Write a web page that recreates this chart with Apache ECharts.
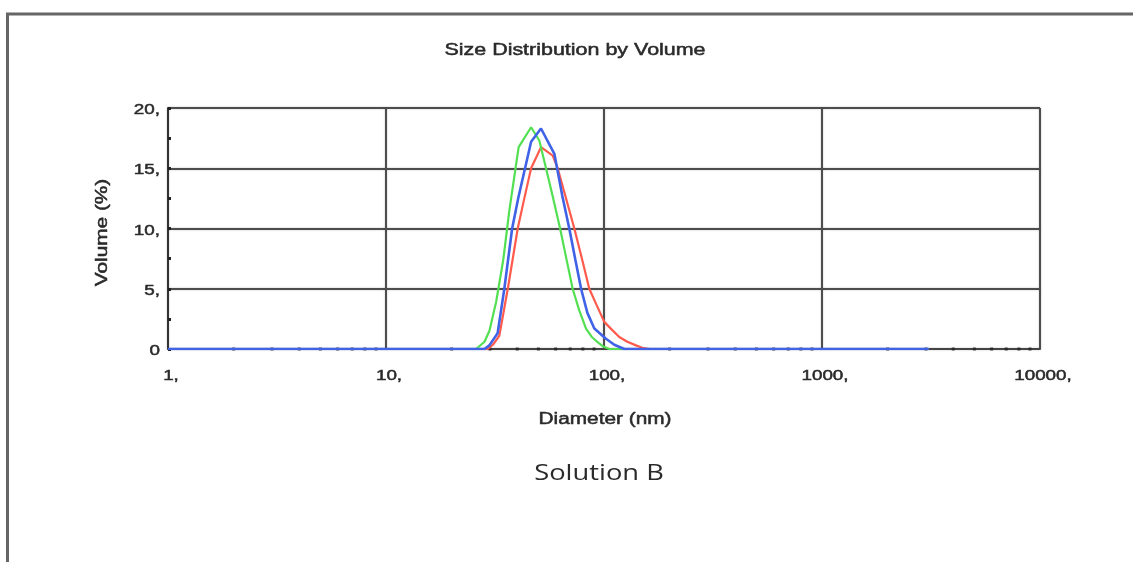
<!DOCTYPE html>
<html>
<head>
<meta charset="utf-8">
<title>Size Distribution by Volume</title>
<script src="https://cdn.jsdelivr.net/npm/echarts@6/dist/echarts.min.js"></script>
<style>
  html, body { margin: 0; padding: 0; background: #ffffff; }
  #chart { width: 1133px; height: 562px; }
</style>
</head>
<body>
<div id="chart"></div>
<script>
// Diameter ticks (nm) and volume ticks (%)
const xTicks = [1, 10, 100, 1000, 10000];
const yTicks = [0, 5, 10, 15, 20];
const xTickLabels = ['1,', '10,', '100,', '1000,', '10000,'];
const yTickLabels = ['0', '5,', '10,', '15,', '20,'];

// Measurement 1 (red)
const redDiameter = [1, 29.3, 31.1, 33.1, 36.2, 40.2, 43.1, 46.3, 51.4, 58.2, 61.3, 66.5, 73.1, 78.7, 85.6, 92.2, 100.3, 108.0, 117.5, 127.9, 140.2, 149.8, 161.3, 3091];
const redVolume   = [0, 0,    0.4,  1.1,  5.0,  10.0, 12.5, 15.0, 16.75, 16.05, 15.0, 12.7, 10.0, 7.7,  5.0,  3.7,  2.25,  1.65,  1.0,   0.6,   0.3,   0.1,   0,     0];

// Measurement 2 (green)
const greenDiameter = [1, 25.9, 28.3, 29.8, 32.0, 34.5, 36.8, 40.6, 46.3, 50.5, 54.2, 58.3, 62.9, 67.2, 71.8, 77.0, 82.7, 87.9, 93.5, 99.3, 105.8, 3091];
const greenVolume   = [0, 0,    0.6,  1.5,  3.9,  7.4,  11.5, 16.75, 18.4, 17.3, 15.0, 12.6, 10.0, 7.5,  5.0,  3.2,  1.7,  1.0,  0.57, 0.2,  0,     0];

// Measurement 3 (blue)
const blueDiameter = [1, 28.3, 29.8, 32.5, 34.9, 37.9, 40.5, 46.3, 51.4, 59.2, 64.4, 69.3, 73.9, 78.5, 83.9, 90.3, 102.1, 111.5, 123.9, 3091];
const blueVolume   = [0, 0,    0.3,  1.3,  5.0,  10.0, 12.6, 17.2, 18.3, 16.2, 12.7, 10.0, 7.4,  5.0,  3.0,  1.7,  0.85,  0.35,  0,     0];

const pairs = (xs, ys) => xs.map((x, i) => [x, ys[i]]);

// Log-spaced minor ticks along the diameter axis (2..9 within each decade)
const minorDiameters = [];
for (let i = 0; i < xTicks.length - 1; i++) {
  for (let k = 2; k <= 9; k++) minorDiameters.push([xTicks[i] * k, 0]);
}

const FONT = '"Liberation Sans", Arial, sans-serif';
const TEXT_COLOR = '#2a2a2a';
const WIDE = 1.3;            // horizontal stretch of the instrument-report lettering
const gridColor = '#4d4d4d';

const chart = echarts.init(document.getElementById('chart'), null, { renderer: 'canvas' });

chart.setOption({
  animation: false,
  backgroundColor: '#ffffff',
  grid: { left: 168, right: 93, top: 108, bottom: 213, containLabel: false },
  xAxis: {
    type: 'log',
    logBase: 10,
    min: xTicks[0],
    max: xTicks[xTicks.length - 1],
    axisLine: { show: true, onZero: false, lineStyle: { color: '#444', width: 2 } },
    axisTick: { show: false },
    minorTick: { show: false },
    axisLabel: { show: false },
    splitLine: { show: true, lineStyle: { color: gridColor, width: 2, shadowBlur: 2, shadowColor: 'rgba(0,0,0,0.25)' } }
  },
  yAxis: {
    type: 'value',
    min: yTicks[0],
    max: yTicks[yTicks.length - 1],
    interval: 5,
    axisLine: { show: true, lineStyle: { color: '#333', width: 2 } },
    axisTick: { show: true, inside: true, length: 3, lineStyle: { color: '#222', width: 3 } },
    minorTick: { show: true, splitNumber: 2, length: 3, lineStyle: { color: '#222', width: 3 } },
    axisLabel: { show: false },
    splitLine: { show: true, lineStyle: { color: gridColor, width: 2, shadowBlur: 2, shadowColor: 'rgba(0,0,0,0.25)' } }
  },
  series: [
    {
      name: 'minor ticks',
      type: 'scatter',
      silent: true,
      symbol: 'rect',
      symbolSize: [3, 3],
      itemStyle: { color: '#222' },
      data: minorDiameters,
      z: 1
    },
    {
      name: 'Record 1',
      type: 'line',
      data: pairs(redDiameter, redVolume),
      showSymbol: false,
      lineStyle: { color: '#ff5a4c', width: 2.2 },
      itemStyle: { color: '#ff5a4c' },
      z: 3
    },
    {
      name: 'Record 2',
      type: 'line',
      data: pairs(greenDiameter, greenVolume),
      showSymbol: false,
      lineStyle: { color: '#52e052', width: 2.2 },
      itemStyle: { color: '#52e052' },
      z: 4
    },
    {
      name: 'Record 3',
      type: 'line',
      data: pairs(blueDiameter, blueVolume),
      showSymbol: false,
      lineStyle: { color: '#3f62e6', width: 2.6 },
      itemStyle: { color: '#3f62e6' },
      z: 5
    }
  ]
});

// Wide lettering: texts placed via the axes' own scales, stretched along the baseline
function wideText(id, text, x, y, size, opts) {
  opts = opts || {};
  const heavy = opts.heavy !== false;
  return {
    type: 'text',
    id: id,
    x: x,
    y: y,
    rotation: opts.rotation || 0,
    scaleX: WIDE,
    silent: true,
    z: 10,
    style: {
      text: text,
      fontFamily: opts.font || FONT,
      fontSize: size,
      fill: TEXT_COLOR,
      stroke: heavy ? TEXT_COLOR : null,
      lineWidth: heavy ? 0.5 : 0,
      align: opts.align || 'center',
      verticalAlign: 'middle'
    }
  };
}

const grid = { left: 168, top: 108, right: 1040, bottom: 349 };
const xAt = v => chart.convertToPixel({ xAxisIndex: 0 }, v);
const yAt = v => chart.convertToPixel({ yAxisIndex: 0 }, v);

const texts = [];
xTicks.forEach((v, i) => {
  texts.push(wideText('xl' + i, xTickLabels[i], xAt(v) + 3, grid.bottom + 27, 14.5));
});
yTicks.forEach((v, i) => {
  texts.push(wideText('yl' + i, yTickLabels[i], grid.left - 8, yAt(v) + 2, 14.5, { align: 'right' }));
});
texts.push(wideText('title', 'Size Distribution by Volume', 575, 50, 16.5));
texts.push(wideText('xname', 'Diameter (nm)', xAt(100) + 1, 420, 16));
texts.push(wideText('yname', 'Volume (%)', 103, (grid.top + grid.bottom) / 2 + 4, 16, { rotation: Math.PI / 2 }));
texts.push(wideText('caption', 'Solution B', 599, 474, 21, { font: '"Open Sans", "Noto Sans", sans-serif', heavy: false }));

chart.setOption({
  graphic: [
    {
      type: 'polyline',
      id: 'frame',
      shape: { points: [[7.5, 562], [7.5, 14], [1133, 14]] },
      style: { stroke: '#666', lineWidth: 3, fill: null },
      silent: true
    }
  ].concat(texts)
});
</script>
</body>
</html>
